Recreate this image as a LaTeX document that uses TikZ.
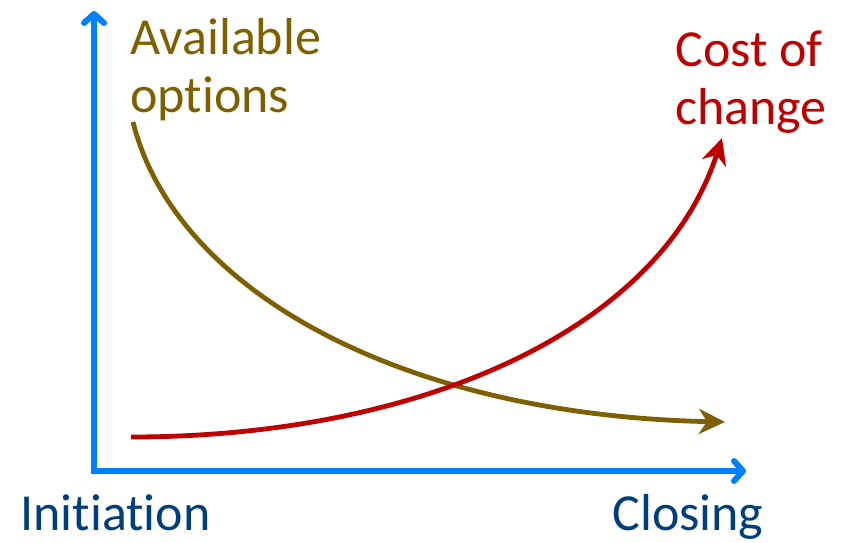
\documentclass[tikz,border=0pt]{standalone}
\usepackage{fontspec}
\setmainfont{Carlito}[Ligatures=NoCommon]
\usetikzlibrary{arrows.meta}
\definecolor{axisblue}{RGB}{0,128,255}
\definecolor{optbrown}{RGB}{127,96,0}
\definecolor{costred}{RGB}{192,0,0}
\definecolor{phaseblue}{RGB}{0,62,126}

\begin{document}
\begin{tikzpicture}[x=0.5pt, y=-0.5pt,
axisline/.style={draw=axisblue, line width=3pt, {Straight Barb[length=4.5pt, width=10pt, line join=round, line cap=round]}-{Straight Barb[length=4.5pt, width=10pt, line join=round, line cap=round]}},
curveline/.style={line width=2.4pt, -{Stealth[length=13pt, width=12.5pt, inset=4pt]}},
labeltext/.style={inner sep=0pt, anchor=base west, align=left, font=\fontsize{26}{29}\selectfont}]
\useasboundingbox (0,0) rectangle (846,542);
\coordinate (ytip) at (94,11);
\coordinate (origin) at (94,471);
\coordinate (xtip) at (746,471);
\coordinate (optstart) at (133,122);
\coordinate (optend) at (725,422);
\coordinate (coststart) at (131,437);
\coordinate (costend) at (722,138);

\draw[axisline] (ytip) -- (origin) -- (xtip);
\draw[curveline, draw=optbrown] (optstart) .. controls (175,290) and (400,415) .. (optend);
\draw[curveline, draw=costred] (coststart) .. controls (420,437) and (660,330) .. (costend);

\node[labeltext, text=optbrown] (options) at (130,112) {Available\\options};
\node[labeltext, text=costred] (cost) at (675,124) {Cost of\\change};
\node[labeltext, text=phaseblue] (init) at (20,530) {Initiation};
\node[labeltext, text=phaseblue] (closing) at (612,530) {Closing};
\end{tikzpicture}
\end{document}
